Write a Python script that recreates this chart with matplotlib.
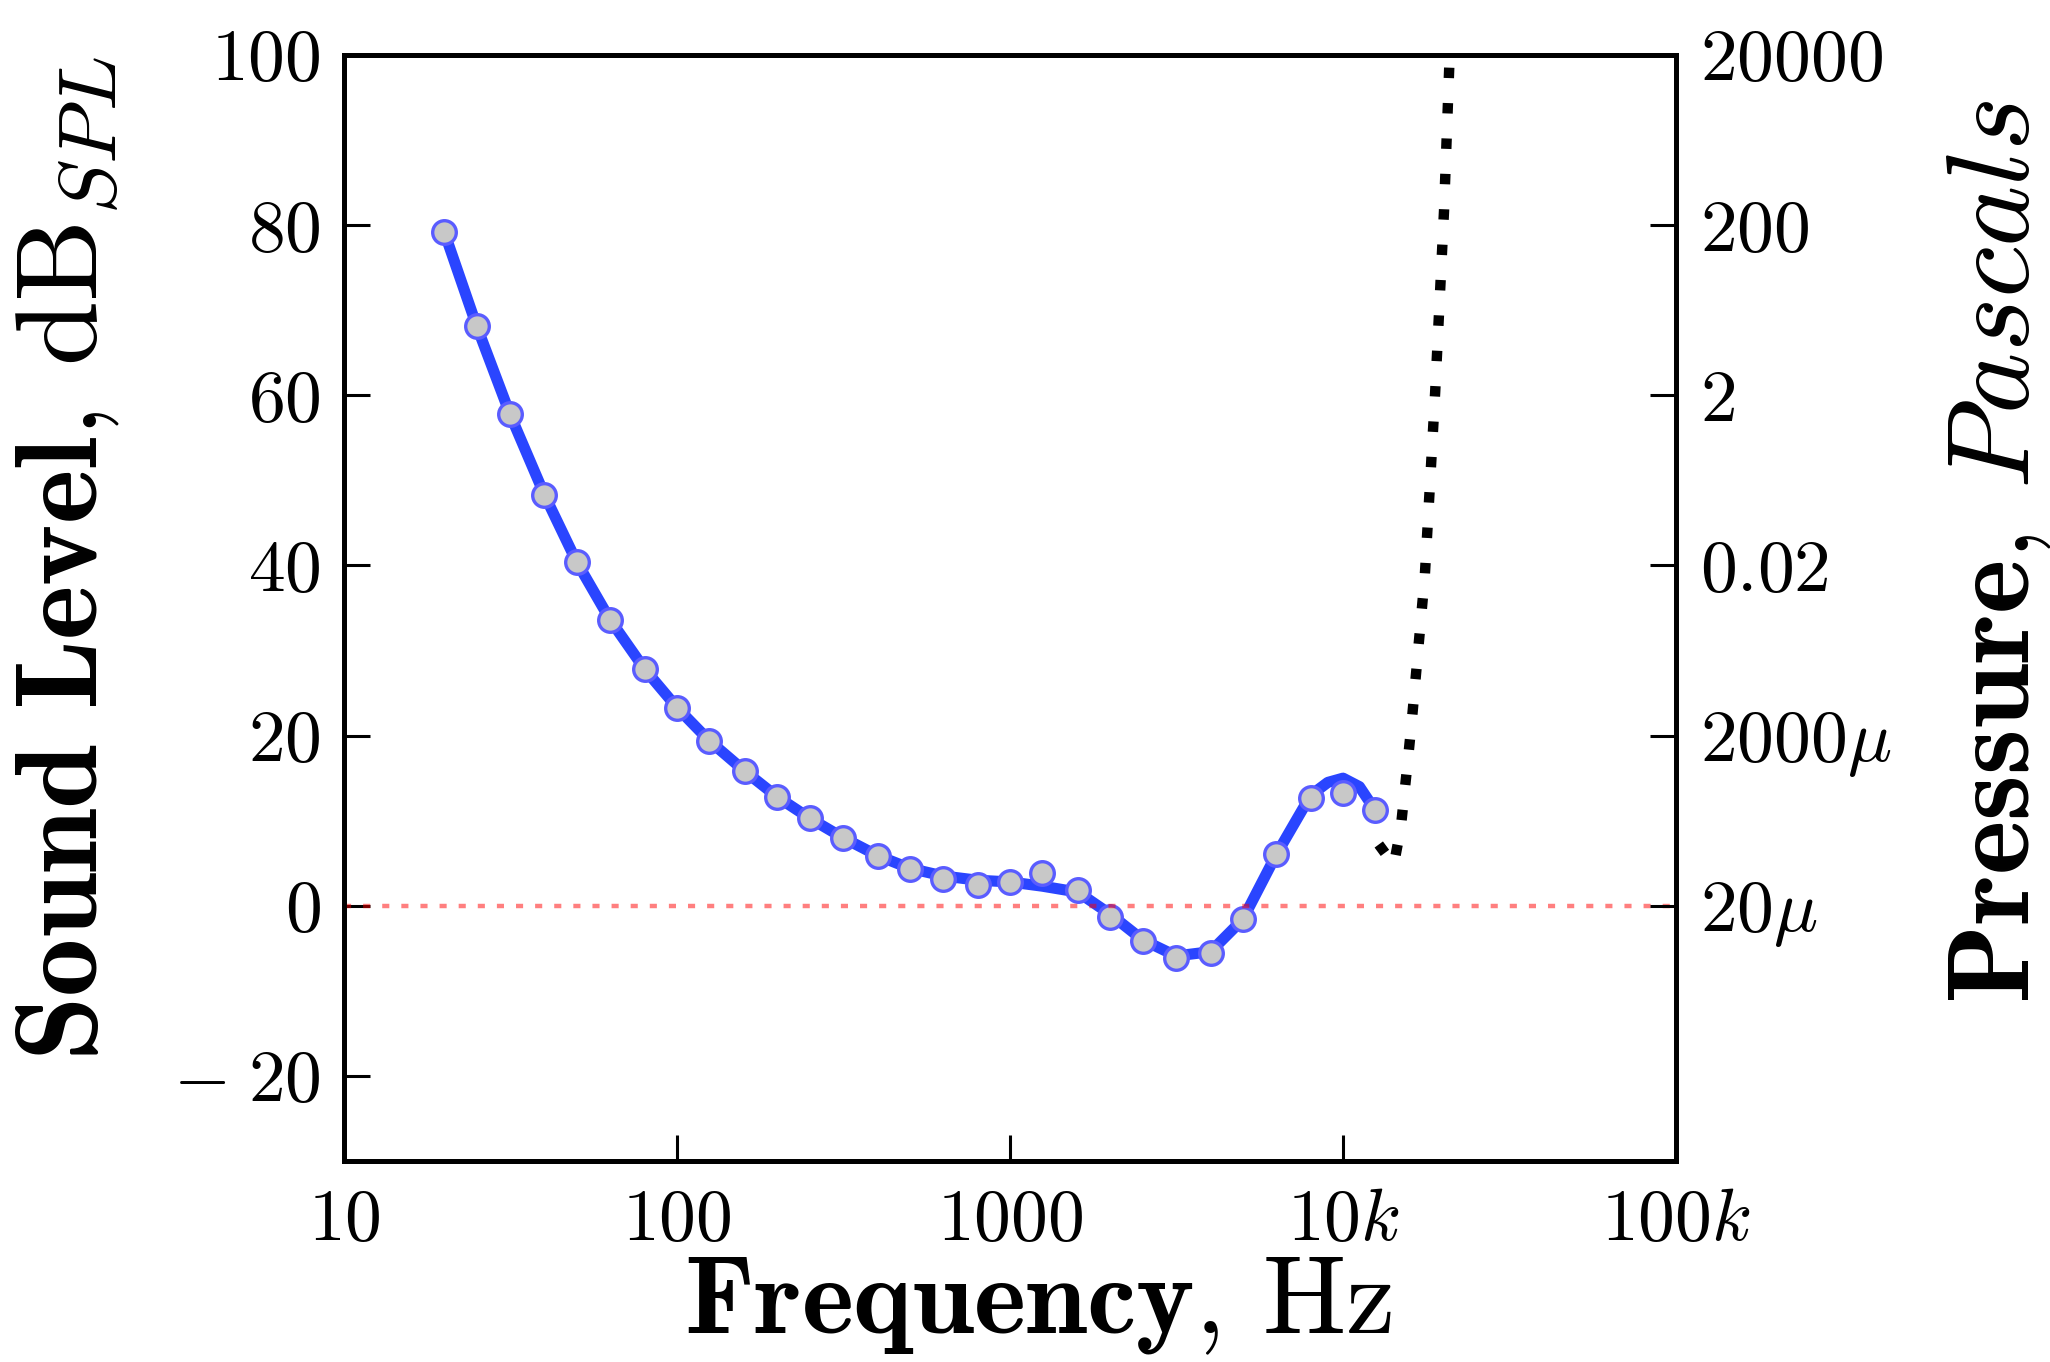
import matplotlib
matplotlib.use('Agg')
import matplotlib.pyplot as plt
import numpy as np

plt.rcParams['mathtext.fontset'] = 'cm'
plt.rcParams['font.family'] = 'serif'
plt.rcParams['font.serif'] = ['cmr10', 'DejaVu Serif']
plt.rcParams['axes.unicode_minus'] = False

# Measured threshold points (1/3 octave bands)
freq = [20, 25, 31.5, 40, 50, 63, 80, 100, 125, 160, 200, 250, 315, 400, 500,
        630, 800, 1000, 1250, 1600, 2000, 2500, 3150, 4000, 5000, 6300, 8000,
        10000, 12500]
level = [79.2, 68.2, 57.8, 48.3, 40.4, 33.6, 27.8, 23.3, 19.4, 15.8, 12.8, 10.3,
         8.0, 5.9, 4.3, 3.2, 2.4, 2.8, 3.9, 1.8, -1.3, -4.2, -6.2, -5.6, -1.6,
         6.1, 12.7, 13.3, 11.2]

# Smooth fitted curve
curve_freq = [20, 25, 31.5, 40, 50, 63, 80, 100, 125, 160, 200, 250, 315, 400,
              500, 630, 800, 1000, 1250, 1600, 2000, 2500, 3150, 4000, 5000,
              6300, 8000, 9000, 10000, 11200, 12500]
curve_level = [79.2, 68.2, 57.8, 48.3, 40.4, 33.6, 27.8, 23.3, 19.4, 15.8, 12.8,
               10.3, 8.0, 5.9, 4.4, 3.5, 3.0, 2.8, 2.3, 1.6, -1.0, -4.0, -5.9,
               -5.4, -1.6, 6.0, 13.0, 14.5, 15.0, 14.0, 11.2]

# High-frequency extension (dotted)
hf_freq = [12800, 14200, 14900, 15300, 15700, 16100, 17600, 18900, 20100, 20900, 21300]
hf_level = [7.2, 4.8, 9.1, 13.4, 17.6, 21.9, 38.8, 60.3, 81.7, 100.0, 106.0]

xticks = [10, 100, 1000, 10000, 100000]
xticklabels = ['$10$', '$100$', '$1000$', '$10k$', '$100k$']
yticks = [-20, 0, 20, 40, 60, 80, 100]
yticklabels = [r'$-\;20$', '$0$', '$20$', '$40$', '$60$', '$80$', '$100$']
rticks = [0, 20, 40, 60, 80, 100]
rticklabels = [r'$20\mu$', r'$2000\mu$', '$0.02$', '$2$', '$200$', '$20000$']

fig = plt.figure(figsize=(20.5, 13.62), dpi=100)
ax = fig.add_axes([0.1678, 0.1476, 0.6498, 0.812])
ax.set_xscale('log')
ax.set_xlim(10, 100000)
ax.set_ylim(-30, 100)

ax.plot(curve_freq, curve_level, color='#2a45ff', linewidth=8, zorder=3,
        solid_capstyle='round', solid_joinstyle='round')
ax.plot(freq, level, linestyle='none', marker='o', markersize=17,
        markerfacecolor='#c8c8c8', markeredgecolor='#5a5cff',
        markeredgewidth=2.4, zorder=4)
ax.plot(hf_freq, hf_level, color='black', linewidth=7.5, dashes=(1, 2.4),
        zorder=3)
ax.axhline(0, color='red', alpha=0.5, linewidth=3.2, dashes=(1.6, 2.7), zorder=5)

ax.set_xticks(xticks)
ax.set_xticklabels(xticklabels)
ax.xaxis.set_minor_locator(matplotlib.ticker.NullLocator())
ax.set_yticks(yticks)
ax.set_yticklabels(yticklabels)
ax.tick_params(axis='both', direction='in', length=19, width=2.2,
               labelsize=53, pad=17)
ax.tick_params(axis='x', pad=20)

ax2 = ax.twinx()
ax2.set_ylim(-30, 100)
ax2.set_yticks(rticks)
ax2.set_yticklabels(rticklabels)
ax2.tick_params(axis='y', direction='in', length=19, width=2.2, labelsize=53, pad=17)

for a in (ax, ax2):
  for s in a.spines.values():
    s.set_linewidth(3.5)

fig.text(0.521 * 0.6498 + 0.1678, 0.021, r'$\mathbf{Frequency}$, Hz',
         ha='center', va='baseline', fontsize=80)
fig.text(0.033, 0.59, r'$\mathbf{Sound\ Level}$, dB$_{SPL}$',
         ha='center', va='center', rotation=90, fontsize=84)
fig.text(0.975, 0.595, r'$\mathbf{Pressure}$, $Pascals$',
         ha='center', va='center', rotation=90, fontsize=84)

fig.savefig('out.png', dpi=100)
plt.close(fig)
